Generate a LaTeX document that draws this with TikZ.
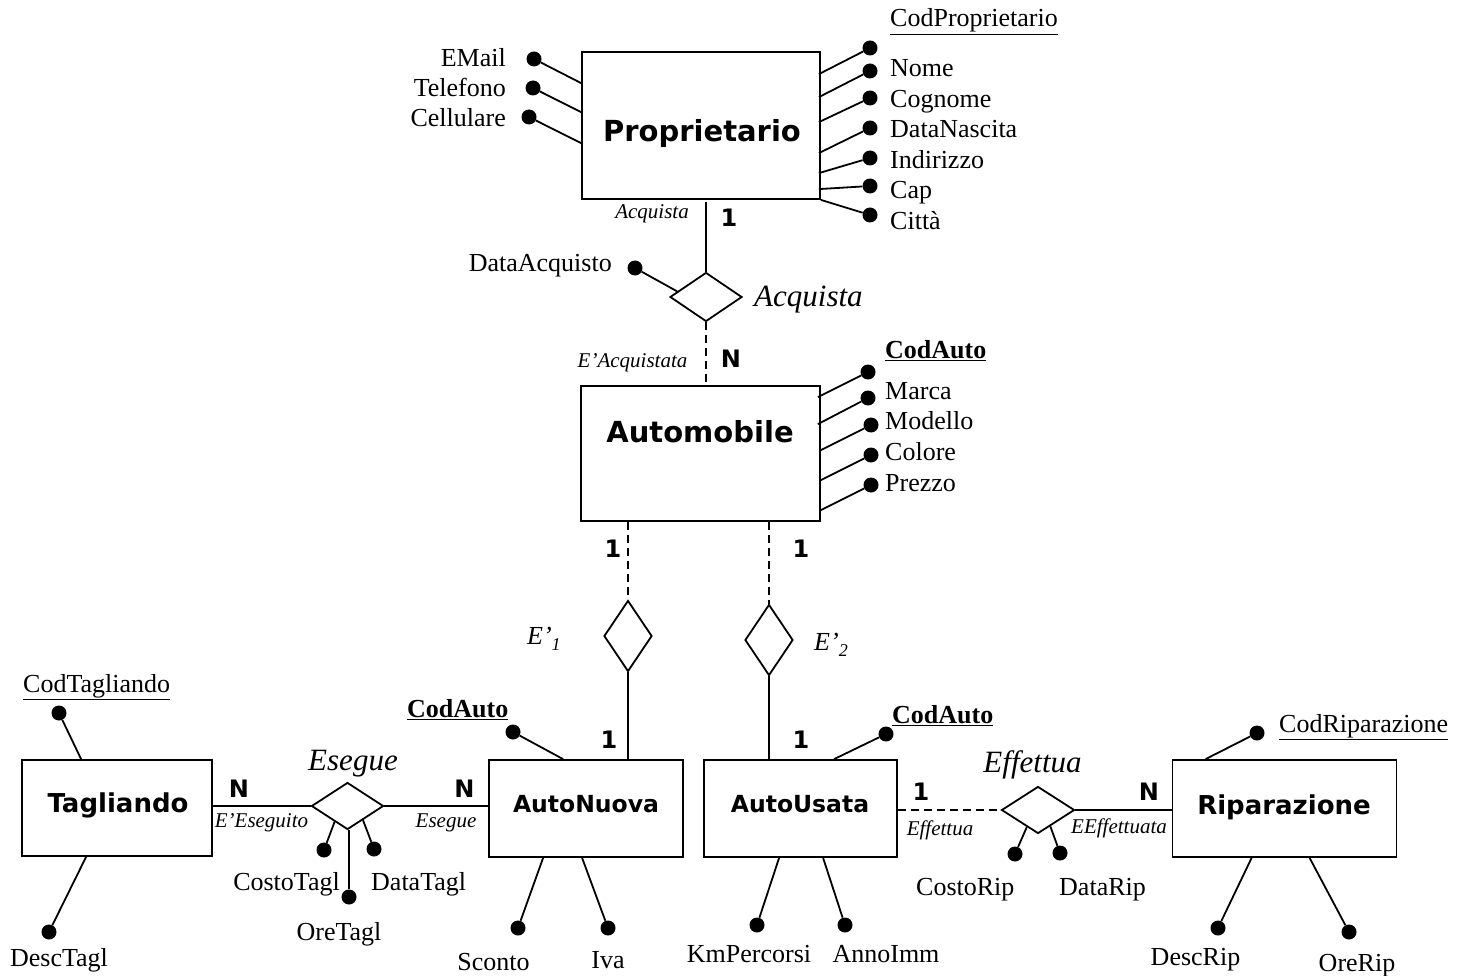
\documentclass[tikz,border=0pt]{standalone}
\usepackage{fontspec}
\setmainfont{Liberation Serif}
\newfontfamily\entfont{DejaVu Sans}
\usetikzlibrary{shapes.geometric,calc}
\begin{document}
\begin{tikzpicture}[x=1pt,y=-1pt,
  ent/.style={draw,line width=1.8pt,inner sep=0pt},
  rel/.style={draw,diamond,line width=1.8pt,inner sep=0pt},
  adot/.style={circle,fill,inner sep=0pt,minimum size=15pt},
  ln/.style={line width=1.8pt},
  dsh/.style={line width=1.8pt,dash pattern=on 8pt off 5pt},
  lbl/.style={inner sep=0pt,font=\fontsize{26}{30}\selectfont},
  blbl/.style={inner sep=0pt,font=\fontsize{26}{30}\selectfont\bfseries},
  sit/.style={inner sep=0pt,font=\fontsize{21}{24}\selectfont\itshape},
  bit/.style={inner sep=0pt,font=\fontsize{31}{34}\selectfont\itshape},
  eit/.style={inner sep=0pt,font=\fontsize{26}{30}\selectfont\itshape},
  card/.style={inner sep=0pt,font=\entfont\bfseries\fontsize{24}{26}\selectfont},
  entbig/.style={inner sep=0pt,font=\entfont\bfseries\fontsize{29}{32}\selectfont},
  entmid/.style={inner sep=0pt,font=\entfont\bfseries\fontsize{26}{30}\selectfont},
  entsm/.style={inner sep=0pt,font=\entfont\bfseries\fontsize{23.5}{27}\selectfont}
]
\useasboundingbox (0,0) rectangle (1466,976);

% ---------- Proprietario ----------
\node[ent,minimum width=238pt,minimum height=147pt] (prop) at (701,125.5) {};
\node[entbig,anchor=base] (propt) at (702,141.5) {Proprietario};

\node[adot] (em) at (534,59) {};
\draw[ln] (em) -- ([yshift=-32pt]prop.north west);
\node[lbl,anchor=base east] (emt) at (506,67) {EMail};
\node[adot] (tel) at (533,88) {};
\draw[ln] (tel) -- ([yshift=-61pt]prop.north west);
\node[lbl,anchor=base east] (telt) at (506,97) {Telefono};
\node[adot] (cel) at (529,117) {};
\draw[ln] (cel) -- ([yshift=-92pt]prop.north west);
\node[lbl,anchor=base east] (celt) at (506,127) {Cellulare};

\node[adot] (cp) at (870,48) {};
\draw[ln] (cp) -- ([xshift=-2pt,yshift=-23pt]prop.north east);
\node[lbl,anchor=base west] (cpt) at (890,27) {\underline{CodProprietario}};
\node[adot] (nom) at (870,71) {};
\draw[ln] (nom) -- ([xshift=-2pt,yshift=-46pt]prop.north east);
\node[lbl,anchor=base west] (nomt) at (890,77) {Nome};
\node[adot] (cog) at (870,98) {};
\draw[ln] (cog) -- ([xshift=-2pt,yshift=-71pt]prop.north east);
\node[lbl,anchor=base west] (cogt) at (890,107.5) {Cognome};
\node[adot] (dn) at (870,128) {};
\draw[ln] (dn) -- ([xshift=-2pt,yshift=-102pt]prop.north east);
\node[lbl,anchor=base west] (dnt) at (890,138) {DataNascita};
\node[adot] (ind) at (870,158) {};
\draw[ln] (ind) -- ([xshift=-2pt,yshift=-122pt]prop.north east);
\node[lbl,anchor=base west] (indt) at (890,168.5) {Indirizzo};
\node[adot] (cap) at (870,186) {};
\draw[ln] (cap) -- ([xshift=-2pt,yshift=-138pt]prop.north east);
\node[lbl,anchor=base west] (capt) at (890,199) {Cap};
\node[adot] (cit) at (870,215) {};
\draw[ln] (cit) -- (prop.south east);
\node[lbl,anchor=base west] (citt) at (890,229.5) {Città};

% ---------- Acquista ----------
\node[rel,minimum width=72pt,minimum height=49pt] (acq) at (706,297) {};
\draw[ln] ([yshift=-2pt]acq.north |- prop.south) -- (acq.north);
\node[sit,anchor=base] (acqs) at (652,219) {Acquista};
\node[card,anchor=base] (c1a) at (729,227) {1};
\node[adot] (da) at (635,268) {};
\draw[ln] (da) -- ($(acq.west)!0.22!(acq.north)$);
\node[lbl,anchor=base east] (dat) at (612,271) {DataAcquisto};
\node[bit,anchor=base west] (acqb) at (754,306) {Acquista};
\node[sit,anchor=base] (eacq) at (632.5,367) {E’Acquistata};
\node[card,anchor=base] (cna) at (731,367) {N};

% ---------- Automobile ----------
\node[ent,minimum width=239pt,minimum height=135pt] (auto) at (700.5,453.5) {};
\node[entbig,anchor=base] (autot) at (700,442) {Automobile};
\draw[dsh] (acq.south) -- (acq.south |- auto.north);

\node[adot] (ca) at (868,372) {};
\draw[ln] (ca) -- ([xshift=-3pt,yshift=-12pt]auto.north east);
\node[blbl,anchor=base west] (cat) at (885,358) {\underline{CodAuto}};
\node[adot] (mar) at (868,398) {};
\draw[ln] (mar) -- ([xshift=-3pt,yshift=-39pt]auto.north east);
\node[lbl,anchor=base west] (mart) at (885,399) {Marca};
\node[adot] (mod) at (871,425) {};
\draw[ln] (mod) -- ([yshift=-65pt]auto.north east);
\node[lbl,anchor=base west] (modt) at (885,429) {Modello};
\node[adot] (col) at (871,455) {};
\draw[ln] (col) -- ([yshift=-95pt]auto.north east);
\node[lbl,anchor=base west] (colt) at (885,460) {Colore};
\node[adot] (prz) at (871,485) {};
\draw[ln] (prz) -- ([yshift=-125pt]auto.north east);
\node[lbl,anchor=base west] (przt) at (885,491) {Prezzo};

% ---------- E'1 / E'2 ----------
\node[rel,minimum width=48pt,minimum height=71pt] (e1) at (628,636) {};
\node[rel,minimum width=48pt,minimum height=71pt] (e2) at (769,640) {};
\draw[dsh] (e1.north |- auto.south) -- (e1.north);
\draw[dsh] (e2.north |- auto.south) -- (e2.north);
\node[card,anchor=base] (c1l) at (613,557) {1};
\node[card,anchor=base] (c1r) at (801,557) {1};
\node[eit,anchor=base west] (e1t) at (527,644) {E’\raisebox{-6pt}{\fontsize{18}{20}\selectfont 1}};
\node[eit,anchor=base west] (e2t) at (814,650) {E’\raisebox{-6pt}{\fontsize{18}{20}\selectfont 2}};

% ---------- bottom entities ----------
\node[ent,minimum width=190pt,minimum height=96pt] (tag) at (117,808) {};
\node[entmid,anchor=base] (tagt) at (118,812.5) {Tagliando};
\node[ent,minimum width=194pt,minimum height=97pt] (an) at (586,808.5) {};
\node[entsm,anchor=base] (ant) at (586,812) {AutoNuova};
\node[ent,minimum width=193pt,minimum height=97pt] (au) at (800.5,808.5) {};
\node[entsm,anchor=base] (aut) at (800,812) {AutoUsata};
\node[ent,minimum width=224pt,minimum height=97pt] (rip) at (1284.5,808.5) {};
\node[entmid,anchor=base] (ript) at (1284,814) {Riparazione};

\draw[ln] (e1.south) -- (e1.south |- an.north);
\draw[ln] (e2.south) -- (e2.south |- au.north);
\node[card,anchor=base] (c1n) at (609,748) {1};
\node[card,anchor=base] (c1u) at (801,748) {1};

% ---------- Esegue ----------
\node[rel,minimum width=72pt,minimum height=47pt] (ese) at (347.5,806) {};
\draw[ln] (ese.west -| tag.east) -- (ese.west);
\draw[ln] (ese.east) -- (ese.east -| an.west);
\node[bit,anchor=base] (eseb) at (353,770) {Esegue};
\node[card,anchor=base] (cnl) at (239,797) {N};
\node[card,anchor=base] (cnr) at (464.5,797) {N};
\node[sit,anchor=base] (eese) at (261.5,827) {E’Eseguito};
\node[sit,anchor=base] (eses) at (446,827) {Esegue};
\node[adot] (ct) at (324,850) {};
\draw[ln] (ct) -- ($(ese.west)!0.65!(ese.south)$);
\node[lbl,anchor=base east] (ctt) at (340,890) {CostoTagl};
\node[adot] (dt) at (374,849) {};
\draw[ln] (dt) -- ($(ese.south)!0.42!(ese.east)$);
\node[lbl,anchor=base west] (dtt) at (371,890) {DataTagl};
\node[adot] (ot) at (349,897) {};
\draw[ln] (ot) -- (ot |- ese.south);
\node[lbl,anchor=base] (ott) at (339,940) {OreTagl};

% ---------- Tagliando attributes ----------
\node[adot] (ctg) at (59,713) {};
\draw[ln] (ctg) -- ([xshift=60pt]tag.north west);
\node[lbl,anchor=base west] (ctgt) at (23,692) {\underline{CodTagliando}};
\node[adot] (dtg) at (49,932) {};
\draw[ln] (dtg) -- ([xshift=65pt]tag.south west);
\node[lbl,anchor=base] (dtgt) at (59,966) {DescTagl};

% ---------- AutoNuova attributes ----------
\node[adot] (can) at (513,732) {};
\draw[ln] (can) -- ([xshift=75pt]an.north west);
\node[blbl,anchor=base west] (cant) at (407,717) {\underline{CodAuto}};
\node[adot] (sc) at (518,928) {};
\draw[ln] (sc) -- ([xshift=55pt]an.south west);
\node[lbl,anchor=base] (sct) at (493.5,970) {Sconto};
\node[adot] (iva) at (608,928) {};
\draw[ln] (iva) -- ([xshift=94pt]an.south west);
\node[lbl,anchor=base] (ivat) at (608,968) {Iva};

% ---------- AutoUsata attributes ----------
\node[adot] (cau) at (886,734) {};
\draw[ln] (cau) -- ([xshift=131pt]au.north west);
\node[blbl,anchor=base west] (caut) at (892,723) {\underline{CodAuto}};
\node[adot] (km) at (757,925) {};
\draw[ln] (km) -- ([xshift=76pt]au.south west);
\node[lbl,anchor=base] (kmt) at (749,962) {KmPercorsi};
\node[adot] (ai) at (845,925) {};
\draw[ln] (ai) -- ([xshift=120pt]au.south west);
\node[lbl,anchor=base] (ait) at (886,962) {AnnoImm};

% ---------- Effettua ----------
\node[rel,minimum width=73pt,minimum height=47pt] (eff) at (1038,810) {};
\draw[dsh] (eff.west -| au.east) -- (eff.west);
\draw[ln] (eff.east) -- (eff.east -| rip.west);
\node[bit,anchor=base] (effb) at (1032.5,772) {Effettua};
\node[card,anchor=base] (c1e) at (921,800) {1};
\node[card,anchor=base] (cne) at (1149,800) {N};
\node[sit,anchor=base] (effs) at (940,835) {Effettua};
\node[sit,anchor=base] (eeff) at (1119,833) {EEffettuata};
\node[adot] (cr) at (1015,854) {};
\draw[ln] (cr) -- ($(eff.west)!0.7!(eff.south)$);
\node[lbl,anchor=base west] (crt) at (916,895) {CostoRip};
\node[adot] (dr) at (1060,853) {};
\draw[ln] (dr) -- ($(eff.south)!0.33!(eff.east)$);
\node[lbl,anchor=base west] (drt) at (1059,895) {DataRip};

% ---------- Riparazione attributes ----------
\node[adot] (crp) at (1257,733) {};
\draw[ln] (crp) -- ([xshift=34pt]rip.north west);
\node[lbl,anchor=base west] (crpt) at (1279,732) {\underline{CodRiparazione}};
\node[adot] (drp) at (1218,928) {};
\draw[ln] (drp) -- ([xshift=80pt]rip.south west);
\node[lbl,anchor=base] (drpt) at (1195.5,965) {DescRip};
\node[adot] (orp) at (1349,932) {};
\draw[ln] (orp) -- ([xshift=138pt]rip.south west);
\node[lbl,anchor=base] (orpt) at (1357,971) {OreRip};
\end{tikzpicture}
\end{document}
